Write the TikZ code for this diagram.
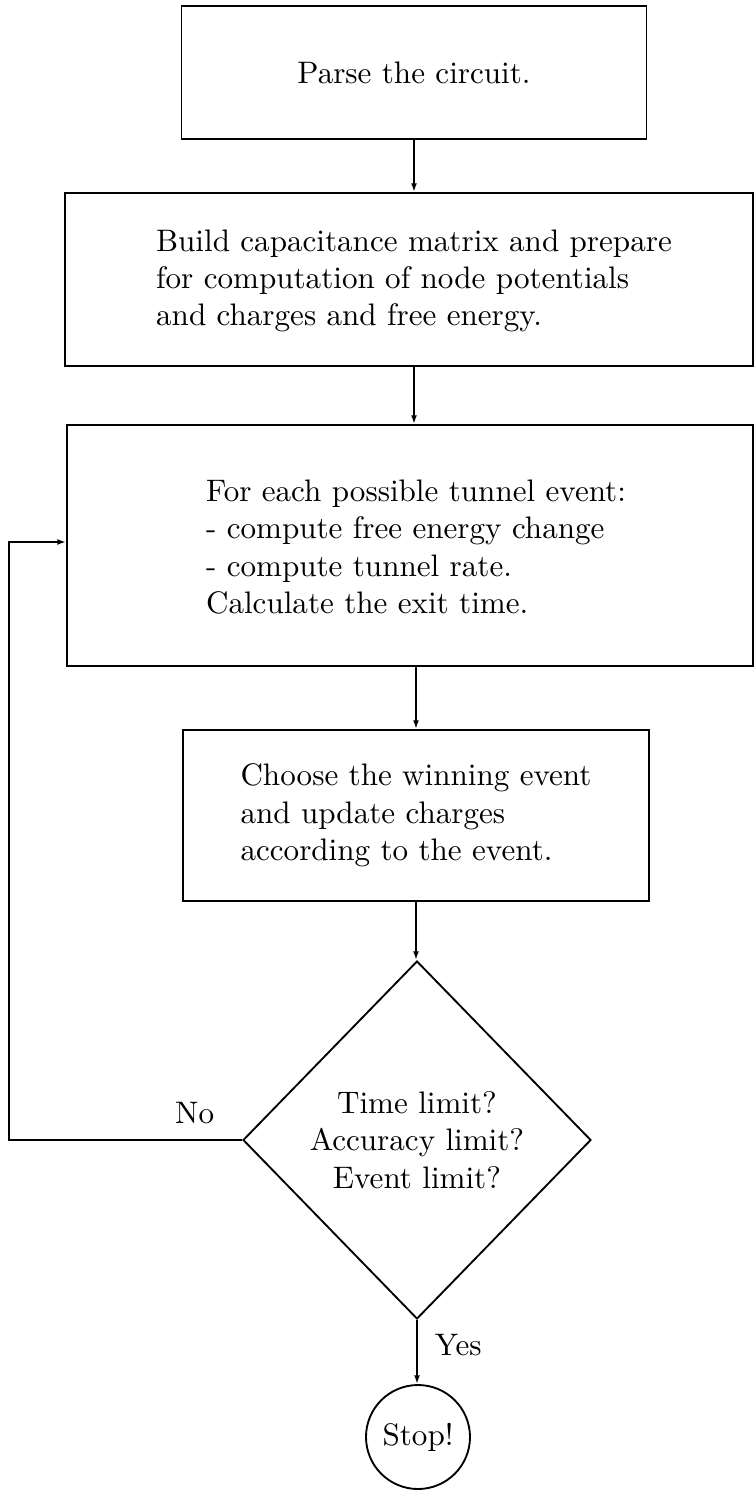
\documentclass[tikz,border=0pt]{standalone}
\usetikzlibrary{shapes.geometric,arrows.meta}
\newcommand\pxs{0.3215pt}
\begin{document}
\begin{tikzpicture}[x=0.3215pt,y=-0.3215pt,
  line width=0.6pt,
  box/.style={draw, rectangle, inner sep=0pt},
  txt/.style={align=left, inner sep=0pt},
  arr/.style={-{Latex[length=2.8pt,width=1.9pt]}},
  decision/.style={draw, diamond, inner sep=0pt, align=center},
  stopnode/.style={draw, circle, inner sep=0pt}
]
\useasboundingbox (0,0) rectangle (755,1490);

% boxes
\node[box, minimum width=465*\pxs, minimum height=133*\pxs] (b1) at (414,72.5) {Parse the circuit.};

\node[box, minimum width=688*\pxs, minimum height=173*\pxs] (b2) at (409,279.5) {};
\node[txt] (t2) at (414,281) {Build capacitance matrix and prepare\\for computation of node potentials\\and charges and free energy.};

\node[box, minimum width=686*\pxs, minimum height=241*\pxs] (b3) at (410,545.5) {};
\node[txt] (t3) at (416,547) {For each possible tunnel event:\\- compute free energy change\\- compute tunnel rate.\\Calculate the exit time.};

\node[box, align=left, minimum width=466*\pxs, minimum height=171*\pxs] (b4) at (416,815.5) {Choose the winning event\\and update charges\\according to the event.};

\node[decision, minimum width=348*\pxs, minimum height=358*\pxs] (d) at (417,1140) {Time limit?\\Accuracy limit?\\Event limit?};

\node[stopnode, minimum size=104*\pxs] (c) at (418,1437) {Stop!};

% connectors
\draw[arr] (b1.south) -- (b1.south |- b2.north);
\draw[arr] (t2 |- b2.south) -- (t2 |- b3.north);
\draw[arr] (t3 |- b3.south) -- (t3 |- b4.north);
\draw[arr] (b4.south) -- (b4.south |- d.north);
\draw[arr] (d.south) -- (d.south |- c.north);

\coordinate (lb) at (9,1140);
\coordinate (lt) at (9,542);
\draw[arr] (d.west) -- (d.west -| lb) -- (lt) -- (lt -| b3.west);

% labels
\node[anchor=base east, inner sep=0pt] (no) at (215,1123) {No};
\node[anchor=base west, inner sep=0pt] (yes) at (434,1355) {Yes};
\end{tikzpicture}
\end{document}
